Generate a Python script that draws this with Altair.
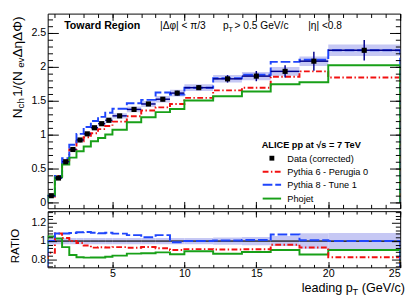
import altair as alt
import pandas as pd

# ---------------- data ----------------
edges = [0.5, 1, 1.5, 2, 2.5, 3, 3.5, 4, 4.5, 5, 6, 7, 8, 9, 10, 12, 14, 16, 18, 20, 25]
data_val = [0.10, 0.36, 0.60, 0.78, 0.92, 1.01, 1.10, 1.16, 1.21, 1.275, 1.37, 1.45,
            1.52, 1.61, 1.69, 1.82, 1.86, 1.93, 2.08, 2.24]
stat_err = [0.004, 0.006, 0.008, 0.01, 0.01, 0.012, 0.012, 0.014, 0.015, 0.015, 0.02, 0.025,
            0.03, 0.035, 0.035, 0.055, 0.075, 0.09, 0.14, 0.15]
sys_err = [0.004, 0.012, 0.02, 0.026, 0.03, 0.033, 0.036, 0.038, 0.04, 0.04, 0.043, 0.045,
           0.048, 0.05, 0.05, 0.055, 0.06, 0.065, 0.07, 0.085]
ratio_err = [0.04, 0.035, 0.035, 0.035, 0.035, 0.035, 0.035, 0.035, 0.035, 0.035, 0.035, 0.035,
             0.035, 0.035, 0.035, 0.04, 0.045, 0.055, 0.085, 0.09]
pythia6 = [0.087, 0.39, 0.62, 0.78, 0.90, 0.96, 1.02, 1.08, 1.125, 1.19, 1.27, 1.355,
           1.40, 1.45, 1.54, 1.65, 1.69, 1.85, 1.93, 1.84]
pythia8 = [0.10, 0.39, 0.65, 0.85, 1.01, 1.11, 1.20, 1.26, 1.32, 1.38, 1.46, 1.51,
           1.62, 1.59, 1.69, 1.83, 1.88, 2.07, 2.10, 2.24]
phojet = [0.105, 0.37, 0.56, 0.66, 0.755, 0.825, 0.90, 0.95, 1.00, 1.07, 1.18, 1.255,
          1.33, 1.375, 1.50, 1.565, 1.635, 1.74, 1.77, 2.02]

x_major = [5, 10, 15, 20, 25]
x_minor = list(range(1, 26))
y_major = [0, 0.5, 1, 1.5, 2, 2.5]
y_minor = [round(0.1 * i, 1) for i in range(0, 28)]
r_major = [0.8, 1, 1.2]
r_minor = [0.72, 0.76, 0.84, 0.88, 0.92, 0.96, 1.04, 1.08, 1.12, 1.16, 1.24, 1.28, 1.32]

# ---------------- styling ----------------
FONT = "Liberation Sans"
C_RED = "#f21010"
C_BLUE = "#1f45fc"
C_GREEN = "#18a018"
C_BAND = "#c6c8f4"
C_ERR = "#00008b"
W, H_TOP, H_RAT = 364, 201, 58

bins = pd.DataFrame({"lo": edges[:-1], "hi": edges[1:], "val": data_val,
                     "stat": stat_err, "sys": sys_err, "rerr": ratio_err})
bins["mid"] = (bins["lo"] + bins["hi"]) / 2
bins["slo"] = bins["val"] - bins["sys"]
bins["shi"] = bins["val"] + bins["sys"]
bins["elo"] = bins["val"] - bins["stat"]
bins["ehi"] = bins["val"] + bins["stat"]
bins["rlo"] = 1 - bins["rerr"]
bins["rhi"] = 1 + bins["rerr"]
bins["one"] = 1.0


def steps(vals, ratio=False):
    v = [m / d for m, d in zip(vals, data_val)] if ratio else list(vals)
    xs = [edges[0]] + edges[:-1] + [edges[-1], edges[-1]]
    ys = [0.0] + v + [v[-1], 0.0]
    return pd.DataFrame({"x": xs, "y": ys, "i": list(range(len(xs)))})


xs_scale = alt.Scale(domain=[0.5, 25], nice=False, zero=False)
yt_scale = alt.Scale(domain=[-0.085, 2.78], nice=False, zero=False)
yr_scale = alt.Scale(domain=[0.71, 1.33], nice=False, zero=False)


def ax(orient, values, size, labels=False, fmt=".1~f", pad=2):
    kw = dict(orient=orient, values=values, tickSize=size, offset=-size, labels=labels,
              domain=False, grid=False, title=None, ticks=True, tickColor="black",
              tickWidth=1, zindex=1)
    if labels:
        kw.update(labelFont=FONT, labelFontSize=11, labelColor="black", format=fmt,
                  labelPadding=pad)
    return alt.Axis(**kw)


one = pd.DataFrame({"a": [0]})


def txt(s, x, y, size=11, bold=False, angle=0, align="left"):
    kw = dict(text=s, font=FONT, fontSize=size, color="black", align=align,
              baseline="alphabetic", angle=angle)
    if bold:
        kw["fontWeight"] = "bold"
    return alt.Chart(one).mark_text(**kw).encode(x=alt.value(x), y=alt.value(y))


def model_line(df, color, dash, yscale, xaxis, yaxis):
    kw = dict(color=color, strokeWidth=2, interpolate="step-after", clip=True)
    if dash:
        kw["strokeDash"] = dash
    return alt.Chart(df).mark_line(**kw).encode(
        x=alt.X("x:Q", scale=xs_scale, axis=xaxis),
        y=alt.Y("y:Q", scale=yscale, axis=yaxis),
        order=alt.Order("i:Q"))


DASH_RED = [6, 2.5, 1.5, 2.5]
DASH_BLUE = [10, 3]

# ---------------- top panel ----------------
band = alt.Chart(bins).mark_rect(color=C_BAND, clip=True).encode(
    x=alt.X("lo:Q", scale=xs_scale, axis=ax("bottom", x_major, 7)),
    x2="hi:Q",
    y=alt.Y("slo:Q", scale=yt_scale, axis=ax("left", y_major, 11, labels=True)),
    y2="shi:Q")

red_top = model_line(steps(pythia6), C_RED, DASH_RED, yt_scale,
                     ax("bottom", x_minor, 4), ax("left", y_minor, 5))
blue_top = model_line(steps(pythia8), C_BLUE, DASH_BLUE, yt_scale,
                      ax("top", x_major, 7), ax("right", y_major, 11))
green_top = model_line(steps(phojet), C_GREEN, None, yt_scale,
                       ax("top", x_minor, 4), ax("right", y_minor, 5))

hbar = alt.Chart(bins).mark_rule(color=C_ERR, strokeWidth=1.5).encode(
    x=alt.X("lo:Q", scale=xs_scale, axis=None), x2="hi:Q",
    y=alt.Y("val:Q", scale=yt_scale, axis=None))
vbar = alt.Chart(bins).mark_rule(color=C_ERR, strokeWidth=1.5).encode(
    x=alt.X("mid:Q", scale=xs_scale, axis=None),
    y=alt.Y("elo:Q", scale=yt_scale, axis=None), y2="ehi:Q")
pts = alt.Chart(bins).mark_square(color="black", size=28, opacity=1).encode(
    x=alt.X("mid:Q", scale=xs_scale, axis=None),
    y=alt.Y("val:Q", scale=yt_scale, axis=None))

# y-axis title with subscripts (rotated pieces)
YT_X, YT_SUB = -27, -24
title_pieces = [
    txt("N", YT_X, 108, 14, angle=270),
    txt("ch", YT_SUB, 97.9, 10, angle=270),
    txt(" 1/(N", YT_X, 85.8, 14, angle=270),
    txt("ev", YT_SUB, 56.0, 10, angle=270),
    txt(" \u0394\u03b7\u0394\u03a6)", YT_X, 45.3, 14, angle=270),
]

annot = [
    txt("Toward Region", 17, 16, 11, bold=True),
    txt("|\u0394\u03c6| < \u03c0/3", 116, 16, 10.5),
    txt("p", 181, 16, 10.5),
    txt("T", 186.8, 18.5, 7.5),
    txt(" > 0.5 GeV/c", 193, 16, 10.5),
    txt("|\u03b7| <0.8", 269, 16, 10.5),
]

leg = [
    txt("ALICE pp at  \u221as = 7 TeV", 221, 138.5, 9.5, bold=True),
    alt.Chart(one).mark_square(color="black", size=25, opacity=1).encode(
        x=alt.value(231.5), y=alt.value(149.3)),
    txt("Data (corrected)", 247.5, 152.8, 9.5),
    alt.Chart(one).mark_rule(color=C_RED, strokeWidth=2, strokeDash=DASH_RED).encode(
        x=alt.value(222), x2=alt.value(241), y=alt.value(163.3)),
    txt("Pythia 6 -  Perugia 0", 247.5, 166.8, 9.5),
    alt.Chart(one).mark_rule(color=C_BLUE, strokeWidth=2, strokeDash=DASH_BLUE).encode(
        x=alt.value(222), x2=alt.value(241), y=alt.value(176.7)),
    txt("Pythia 8 -  Tune 1", 247.5, 180.2, 9.5),
    alt.Chart(one).mark_rule(color=C_GREEN, strokeWidth=2).encode(
        x=alt.value(222), x2=alt.value(241), y=alt.value(191)),
    txt("Phojet", 247.5, 194.5, 9.5),
]

top = alt.layer(band, red_top, blue_top, green_top, hbar, vbar, pts,
                *title_pieces, *annot, *leg).resolve_axis(
    x="independent", y="independent").properties(width=W, height=H_TOP)

# ---------------- ratio panel ----------------
rband = alt.Chart(bins).mark_rect(color=C_BAND, clip=True).encode(
    x=alt.X("lo:Q", scale=xs_scale, axis=ax("bottom", x_major, 6, labels=True, fmt="d", pad=1)),
    x2="hi:Q",
    y=alt.Y("rlo:Q", scale=yr_scale, axis=ax("left", r_major, 9, labels=True)),
    y2="rhi:Q")
unity = alt.Chart(bins).mark_rule(color="black", strokeWidth=1.2).encode(
    x=alt.X("lo:Q", scale=xs_scale, axis=ax("bottom", x_minor, 3)), x2="hi:Q",
    y=alt.Y("one:Q", scale=yr_scale, axis=ax("left", r_minor, 5)))
red_r = model_line(steps(pythia6, True), C_RED, DASH_RED, yr_scale, None, None)
blue_r = model_line(steps(pythia8, True), C_BLUE, DASH_BLUE, yr_scale,
                    ax("top", x_major, 6), ax("right", r_major, 9))
green_r = model_line(steps(phojet, True), C_GREEN, None, yr_scale,
                     ax("top", x_minor, 3), ax("right", r_minor, 5))

xlab = [
    txt(" (GeV/c)", 369, 83.5, 13, align="right"),
    txt("T", 320.5, 86.5, 9.5, align="right"),
    txt("leading p", 315, 83.5, 13, align="right"),
]
rlab = txt("RATIO", -30, 36, 12, angle=270, align="center")

bottom = alt.layer(rband, unity, green_r, red_r, blue_r, *xlab, rlab).resolve_axis(
    x="independent", y="independent").properties(width=W, height=H_RAT)

chart = alt.vconcat(top, bottom, spacing=3, bounds="flush").properties(
    padding=0, background="white"
).configure_view(stroke="black", strokeWidth=1)

chart.save("out.html", embed_options={"renderer": "svg", "actions": False})
